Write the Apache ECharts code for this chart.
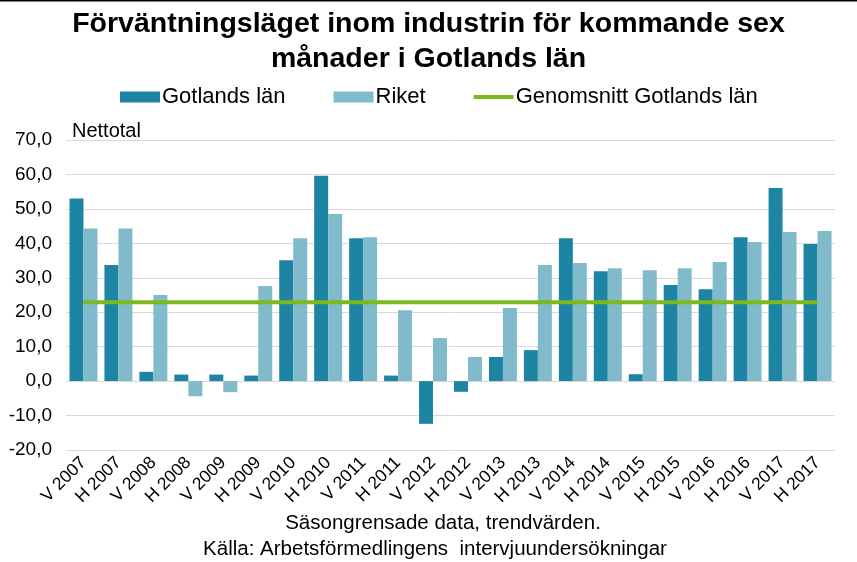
<!DOCTYPE html>
<html><head><meta charset="utf-8">
<script src="https://cdn.jsdelivr.net/npm/echarts@6/dist/echarts.min.js"></script>
<style>html,body{margin:0;padding:0;background:#fff}#c{width:857px;height:562px}</style>
</head><body><div id="c"></div>
<script>
const categories = ["V 2007","H 2007","V 2008","H 2008","V 2009","H 2009","V 2010","H 2010","V 2011","H 2011","V 2012","H 2012","V 2013","H 2013","V 2014","H 2014","V 2015","H 2015","V 2016","H 2016","V 2017","H 2017"];
const gotland = [53.0,33.7,2.7,1.9,1.9,1.6,35.1,59.6,41.5,1.6,-12.4,-3.1,7.0,9.0,41.5,31.9,2.0,27.9,26.7,41.8,56.1,39.8];
const riket = [44.3,44.3,25.0,-4.4,-3.2,27.6,41.5,48.5,41.8,20.6,12.5,7.0,21.2,33.7,34.3,32.8,32.2,32.8,34.6,40.4,43.3,43.6];
const avgValue = 22.9;
const average = categories.map(() => avgValue);
const yTicks = {min: -20, max: 70, interval: 10};

const font = '"Liberation Sans", Arial, sans-serif';
const chart = echarts.init(document.getElementById('c'));
chart.setOption({
  animation: false,
  textStyle: {fontFamily: font, color: '#000'},
  title: [
    {text: 'Förväntningsläget inom industrin för kommande sex\nmånader i Gotlands län', left: 'center', top: 2,
     textStyle: {fontFamily: font, fontSize: 28.5, fontWeight: 'bold', color: '#000', lineHeight: 35}},
    {text: 'Nettotal', left: 67, top: 116, textStyle: {fontFamily: font, fontSize: 20, fontWeight: 'normal', color: '#000'}}
  ],
  graphic: [
    {type: 'rect', left: 0, top: 0, shape: {width: 857, height: 1.5}, style: {fill: '#000'}},
    {type: 'text', x: 443, y: 523, style: {text: 'Säsongrensade data, trendvärden.', font: '20.5px ' + font, fill: '#000', align: 'center', verticalAlign: 'middle'}},
    {type: 'text', x: 435, y: 549, style: {text: 'Källa: Arbetsförmedlingens  intervjuundersökningar', font: '20.5px ' + font, fill: '#000', align: 'center', verticalAlign: 'middle'}}
  ],
  legend: {
    top: 81, left: 115, itemGap: 48, itemWidth: 40, itemHeight: 11,
    textStyle: {fontFamily: font, fontSize: 22, color: '#000', padding: [0,0,0,-3]},
    data: [{name: 'Gotlands län', icon: 'rect'}, {name: 'Riket', icon: 'rect'},
           {name: 'Genomsnitt Gotlands län', icon: 'path://M0 0H40V4H0Z'}]
  },
  grid: {left: 66, right: 22, top: 140, bottom: 112, containLabel: false},
  xAxis: {
    type: 'category', data: categories,
    axisLine: {show: false, onZero: false}, axisTick: {show: false},
    axisLabel: {rotate: 45, fontSize: 17.5, color: '#000', fontFamily: font, margin: 10, interval: 0}
  },
  yAxis: {
    type: 'value', min: yTicks.min, max: yTicks.max, interval: yTicks.interval,
    axisLine: {show: false}, axisTick: {show: false},
    splitLine: {lineStyle: {color: '#d9d9d9', width: 1}},
    axisLabel: {fontSize: 19, color: '#000', fontFamily: font, margin: 14,
      formatter: v => v.toFixed(1).replace('.', ',')}
  },
  series: [
    {name: 'Gotlands län', type: 'bar', data: gotland, barGap: '0%', barCategoryGap: '20%',
     itemStyle: {color: '#1D84A3'}},
    {name: 'Riket', type: 'bar', data: riket, itemStyle: {color: '#80BACB'}},
    {name: 'Genomsnitt Gotlands län', type: 'line', data: average, symbol: 'none', z: 5,
     lineStyle: {color: '#7DB81C', width: 4}, itemStyle: {color: '#7DB81C'}}
  ]
});
</script></body></html>
